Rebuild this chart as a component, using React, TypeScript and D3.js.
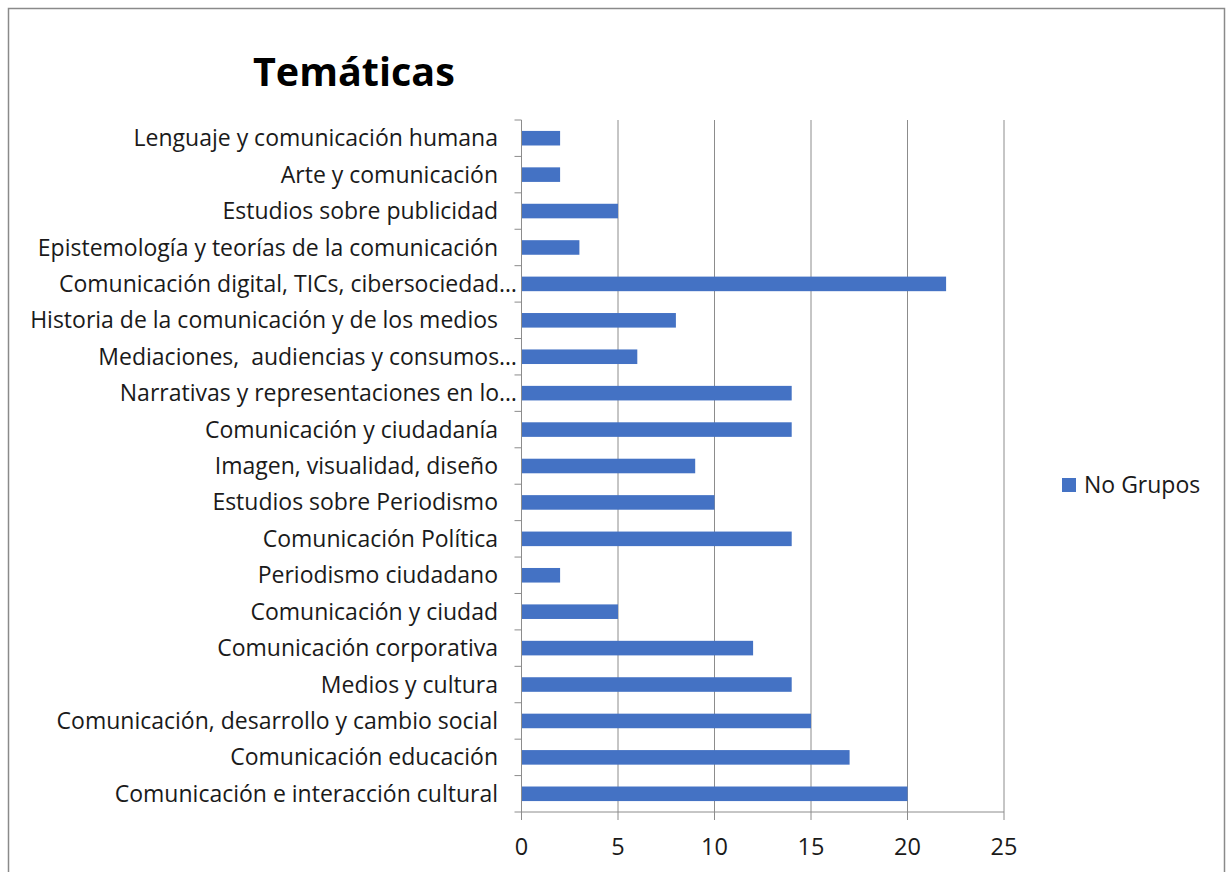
import React from "react";
import * as d3 from "d3";

const categories: string[] = [
  "Lenguaje y comunicación humana",
  "Arte y comunicación",
  "Estudios sobre publicidad",
  "Epistemología y teorías de la comunicación",
  "Comunicación digital, TICs, cibersociedad…",
  "Historia de la comunicación y de los medios",
  "Mediaciones,  audiencias y consumos…",
  "Narrativas y representaciones en lo…",
  "Comunicación y ciudadanía",
  "Imagen, visualidad, diseño",
  "Estudios sobre Periodismo",
  "Comunicación Política",
  "Periodismo ciudadano",
  "Comunicación y ciudad",
  "Comunicación corporativa",
  "Medios y cultura",
  "Comunicación, desarrollo y cambio social",
  "Comunicación educación",
  "Comunicación e interacción cultural",
];
const values: number[] = [2, 2, 5, 3, 22, 8, 6, 14, 14, 9, 10, 14, 2, 5, 12, 14, 15, 17, 20];
const xTicks: number[] = [0, 5, 10, 15, 20, 25];
const seriesName = "No Grupos";
const title = "Temáticas";

const W = 1227;
const H = 872;
const FONT = "'Open Sans', sans-serif";

export default function App() {
  const left = 521.5;
  const right = 1004;
  const top = 120;
  const bottom = 812;
  const x = d3.scaleLinear().domain([0, 25]).range([left, right]);
  const y = d3.scaleBand().domain(categories).range([top, bottom]).paddingInner(0.6).paddingOuter(0.3);
  const band = d3.scaleBand().domain(categories).range([top, bottom]);
  const grid = "#8c8c8c";
  return (
    <svg width={W} height={H} style={{ position: "absolute", left: 0, top: 0, display: "block" }}>
      <rect x={0} y={0} width={W} height={H} fill="#fff" />
      <rect x={8.5} y={8.5} width={1216} height={900} fill="none" stroke="#8a8a8a" strokeWidth={1.5} />
      <text x={253} y={86} fontFamily={FONT} fontWeight={700} fontSize={39.5} fill="#000">{title}</text>
      {xTicks.slice(1).map((t) => (
        <line key={"g" + t} x1={x(t)} x2={x(t)} y1={top} y2={bottom} stroke={grid} strokeWidth={1} />
      ))}
      {categories.map((c, i) => (
        <rect key={"b" + i} x={x(0)} y={y(c)!} width={x(values[i]) - x(0)} height={y.bandwidth()} fill="#4472C4" />
      ))}
      <line x1={left} x2={left} y1={top} y2={bottom} stroke={grid} />
      <line x1={left} x2={right} y1={bottom} y2={bottom} stroke={grid} />
      {categories.map((c, i) => (
        <line key={"t" + i} x1={left - 7} x2={left} y1={band(c)!} y2={band(c)!} stroke={grid} />
      ))}
      <line x1={left - 7} x2={left} y1={bottom} y2={bottom} stroke={grid} />
      {xTicks.map((t) => (
        <line key={"xt" + t} x1={x(t)} x2={x(t)} y1={bottom} y2={bottom + 8} stroke={grid} />
      ))}
      {categories.map((c, i) => (
        <text
          key={"l" + i}
          x={c.endsWith("…") ? 517 : 498}
          y={band(c)! + band.bandwidth() / 2}
          dy="0.35em"
          textAnchor="end"
          fontFamily={FONT}
          fontSize={23}
          fill="#1a1a1a"
          style={{ whiteSpace: "pre" }}
        >
          {c}
        </text>
      ))}
      {xTicks.map((t) => (
        <text key={"xl" + t} x={x(t)} y={847} dy="0.35em" textAnchor="middle" fontFamily={FONT} fontSize={23.5} fill="#1a1a1a">
          {t}
        </text>
      ))}
      <rect x={1062} y={478} width={14} height={14} fill="#4472C4" />
      <text x={1084} y={485} dy="0.35em" fontFamily={FONT} fontSize={23} fill="#1a1a1a">{seriesName}</text>
    </svg>
  );
}
